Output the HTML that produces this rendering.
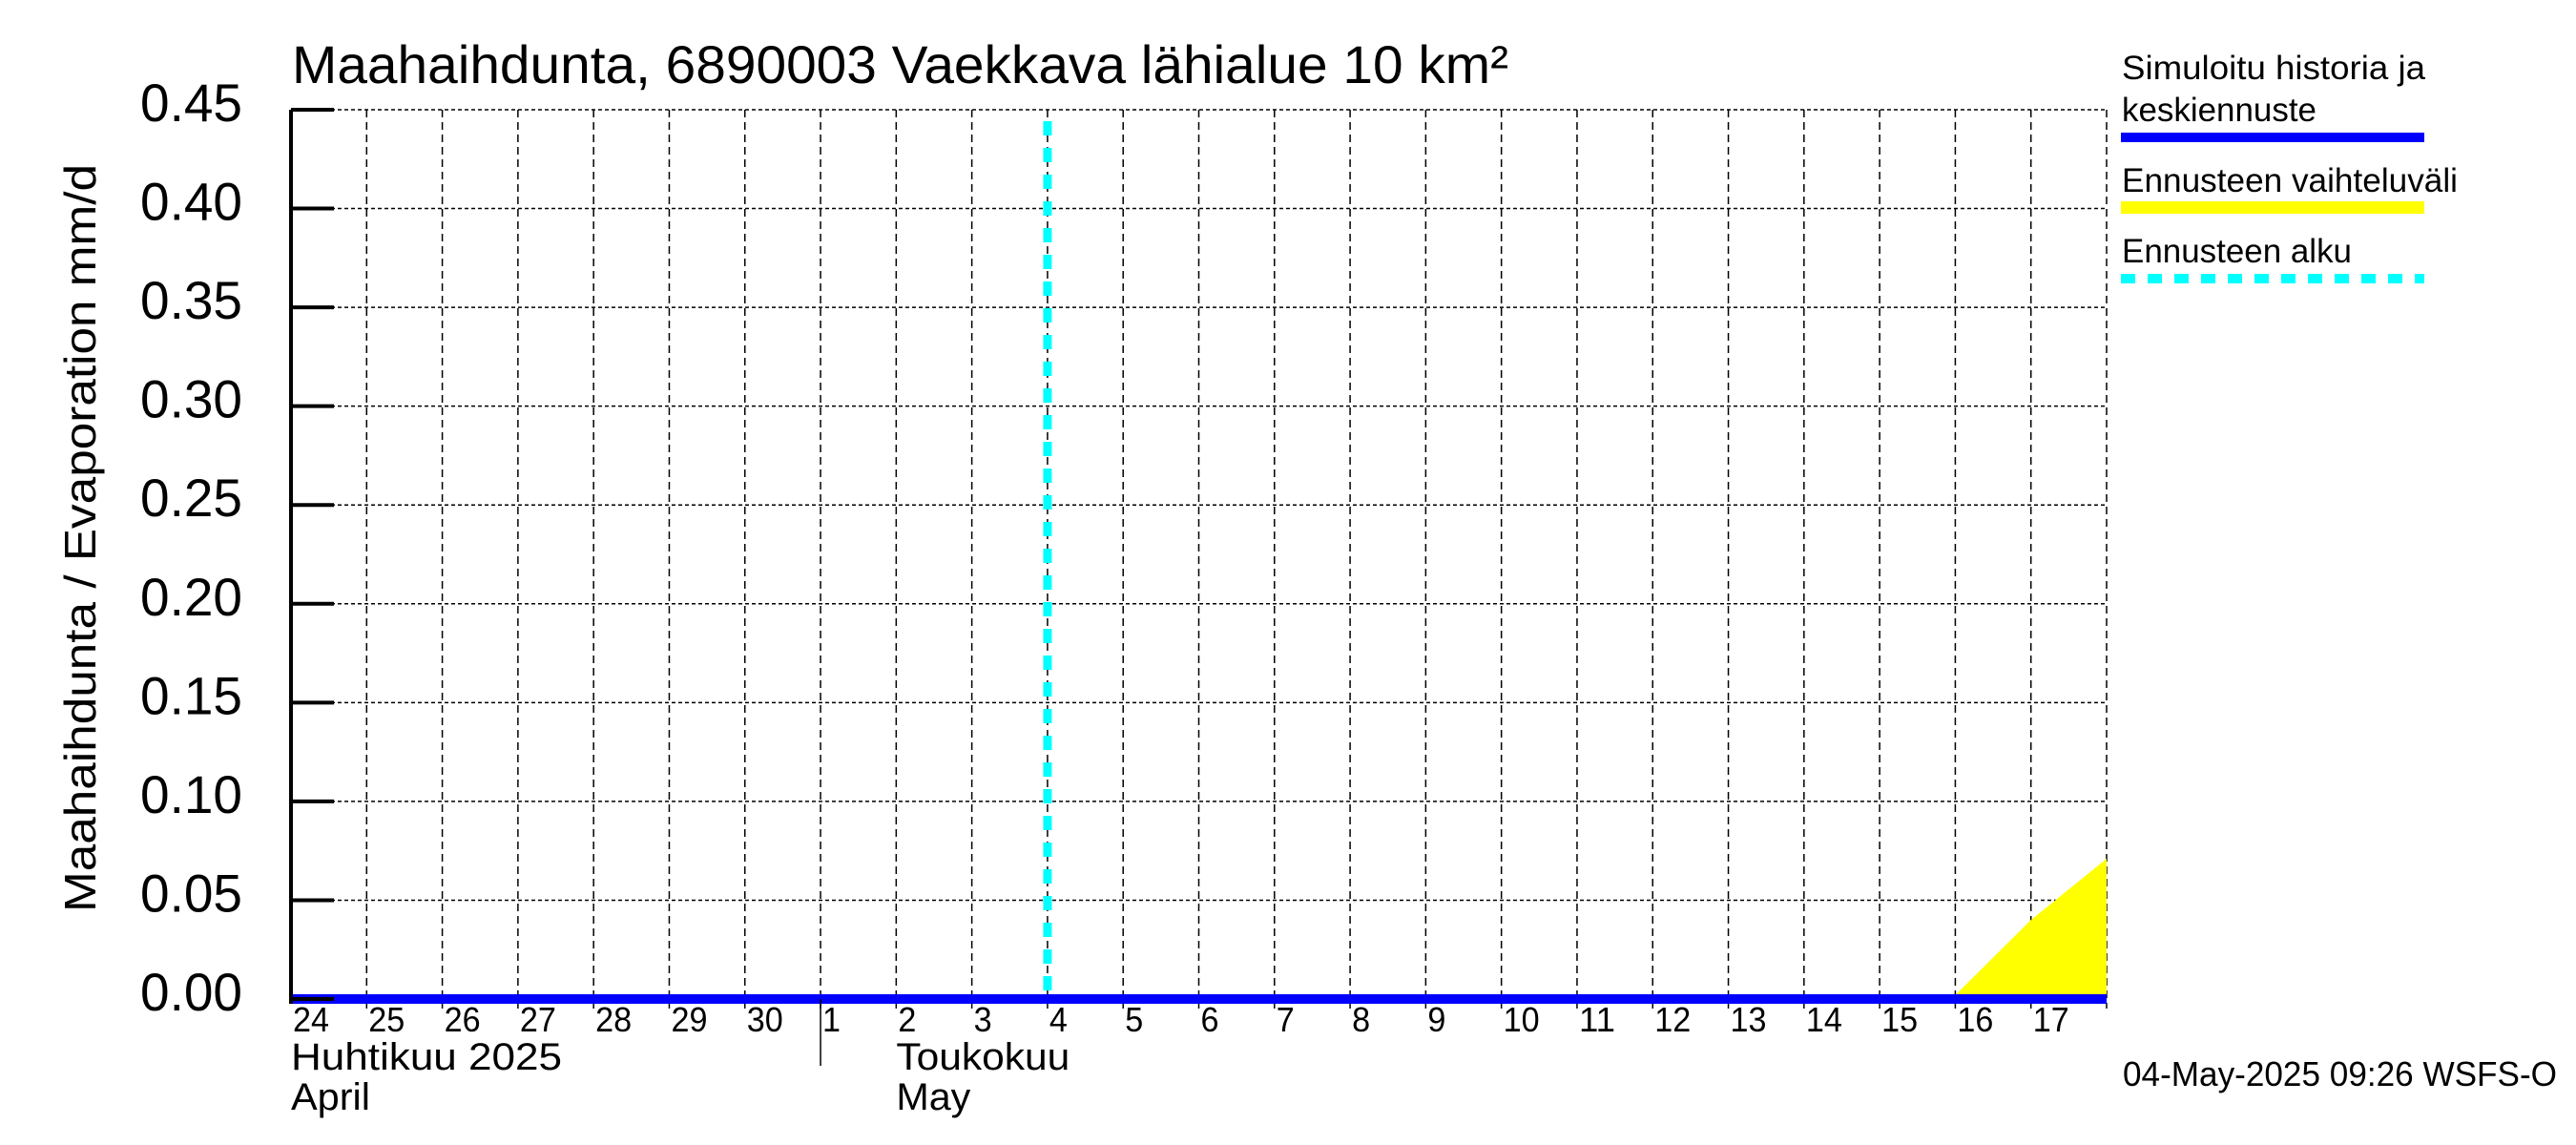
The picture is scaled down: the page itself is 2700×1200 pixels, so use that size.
<!DOCTYPE html>
<html><head><meta charset="utf-8"><style>
html,body{margin:0;padding:0;background:#fff;}
svg{display:block;font-family:"Liberation Sans",sans-serif;}
</style></head><body>
<svg id="chart" width="2700" height="1200" viewBox="0 0 2700 1200" xmlns="http://www.w3.org/2000/svg">
<rect x="0" y="0" width="2700" height="1200" fill="#fff"/>
<text x="306" y="87" font-size="56" textLength="1275" lengthAdjust="spacingAndGlyphs">Maahaihdunta, 6890003 Vaekkava lähialue 10 km²</text>
<text transform="translate(100,564) rotate(-90)" text-anchor="middle" font-size="46" textLength="784" lengthAdjust="spacingAndGlyphs">Maahaihdunta / Evaporation   mm/d</text>
<g id="grid"></g>
<g id="series"></g>
<g id="axes"></g>
<g id="legend">
<text x="2224" y="83" font-size="35" textLength="318" lengthAdjust="spacingAndGlyphs">Simuloitu historia ja</text>
<text x="2224" y="127" font-size="35" textLength="204" lengthAdjust="spacingAndGlyphs">keskiennuste</text>
<rect x="2223" y="139" width="318" height="10" fill="#0000ff"/>
<text x="2224" y="201" font-size="35" textLength="352" lengthAdjust="spacingAndGlyphs">Ennusteen vaihteluväli</text>
<rect x="2223" y="211" width="318" height="13" fill="#ffff00"/>
<text x="2224" y="275" font-size="35" textLength="241" lengthAdjust="spacingAndGlyphs">Ennusteen alku</text>
<line x1="2223" y1="292" x2="2541" y2="292" stroke="#00ffff" stroke-width="10" stroke-dasharray="15 13"/>
</g>
<text x="2225" y="1138" font-size="36" textLength="455" lengthAdjust="spacingAndGlyphs">04-May-2025 09:26 WSFS-O</text>
</svg>
<script>
const yTicks = [0, 0.05, 0.10, 0.15, 0.20, 0.25, 0.30, 0.35, 0.40, 0.45];
const yTickLabels = ["0.00","0.05","0.10","0.15","0.20","0.25","0.30","0.35","0.40","0.45"];
const dayLabels = ["24","25","26","27","28","29","30","1","2","3","4","5","6","7","8","9","10","11","12","13","14","15","16","17"];
const meanX = [0, 24];
const meanY = [0, 0];
const rangeX = [21.8, 22, 23, 24];
const rangeHigh = [0, 0.002, 0.040, 0.071];
const rangeLow = [0, 0, 0, 0];
const forecastStart = 10;
const monthBoundary = 7;

const NS = "http://www.w3.org/2000/svg";
const L = 305, R = 2208, T = 115, B = 1047;
const xMax = 24, yMax = 0.45;
function sx(d){ return L + (R - L) * d / xMax; }
function sy(v){ return B - (B - T) * v / yMax; }
function mk(tag, attrs, parent){
  const e = document.createElementNS(NS, tag);
  for (const k in attrs) e.setAttribute(k, attrs[k]);
  parent.appendChild(e);
  return e;
}
const grid = document.getElementById("grid");
const series = document.getElementById("series");
const axes = document.getElementById("axes");

yTicks.forEach((v, i) => {
  const g = mk("line", {x1: L, x2: R, y1: sy(v), y2: sy(v), stroke: "#000", "stroke-width": 1.5, "stroke-dasharray": "4 3"}, grid);
  
  
  const t = mk("line", {x1: L, x2: L + 45, y1: sy(v), y2: sy(v), stroke: "#000", "stroke-width": 4}, axes);
  
  
  const tx = mk("text", {x: 254, y: sy(v) + 12, "text-anchor": "end", "font-size": 56, textLength: 107, lengthAdjust: "spacingAndGlyphs"}, axes);
  tx.textContent = yTickLabels[i];
  
  
});
for (let d = 1; d <= xMax; d++) {
  const g = mk("line", {x1: sx(d), x2: sx(d), y1: T, y2: B + 10, stroke: "#000", "stroke-width": 1.5, "stroke-dasharray": "8 5"}, grid);
  
  
}
dayLabels.forEach((lab, i) => {
  const t = mk("text", {x: sx(i) + 2, y: 1081, "font-size": 36, textLength: lab.length * 19, lengthAdjust: "spacingAndGlyphs"}, axes);
  t.textContent = lab;
  
  
});
// yellow forecast range
let pts = rangeX.map((d, i) => sx(d) + "," + sy(rangeHigh[i]));
for (let i = rangeX.length - 1; i >= 0; i--) pts.push(sx(rangeX[i]) + "," + sy(rangeLow[i]));
const poly = mk("polygon", {points: pts.join(" "), fill: "#ffff00"}, series);


// mean line
const ml = mk("polyline", {points: meanX.map((d, i) => sx(d) + "," + sy(meanY[i])).join(" "), fill: "none", stroke: "#0000ff", "stroke-width": 10}, series);


// forecast start
const fs = mk("line", {x1: sx(forecastStart), x2: sx(forecastStart), y1: T + 12, y2: B, stroke: "#00ffff", "stroke-width": 9, "stroke-dasharray": "15 13"}, series);


// axis line
const ax = mk("line", {x1: L, x2: L, y1: T, y2: B + 5, stroke: "#000", "stroke-width": 4}, axes);


const mb = mk("line", {x1: sx(monthBoundary), x2: sx(monthBoundary), y1: B, y2: 1117, stroke: "#000", "stroke-width": 1.5}, axes);


const months = [
  {x: sx(0), y: 1121, s: "Huhtikuu  2025", w: 284, n: "month-label-fi-april"},
  {x: sx(0), y: 1163, s: "April", w: 83, n: "month-label-en-april"},
  {x: sx(8), y: 1121, s: "Toukokuu", w: 182, n: "month-label-fi-may"},
  {x: sx(8), y: 1163, s: "May", w: 78, n: "month-label-en-may"}
];
months.forEach(m => {
  const t = mk("text", {x: m.x, y: m.y, "font-size": 40, textLength: m.w, lengthAdjust: "spacingAndGlyphs"}, axes);
  t.textContent = m.s;
  
  
});
</script>
</body></html>
